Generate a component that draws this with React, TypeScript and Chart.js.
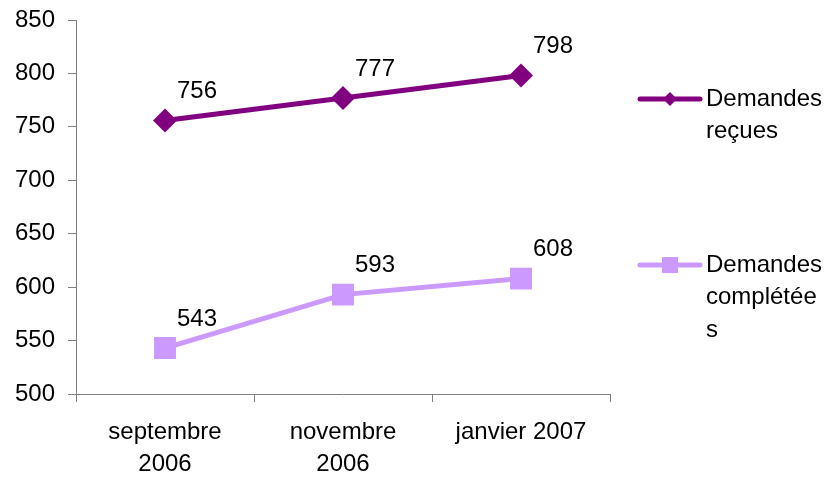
import React, { useEffect, useRef } from "react";
import { Chart, registerables } from "chart.js";

Chart.register(...registerables);

const categories: (string | string[])[] = [["septembre", "2006"], ["novembre", "2006"], "janvier 2007"];
const seriesNames = ["Demandes reçues", "Demandes complétées"];
const legendLines = [["Demandes", "reçues"], ["Demandes", "complétée", "s"]];
const demandesRecues = [756, 777, 798];
const demandesCompletees = [543, 593, 608];
const yMin = 500;
const yMax = 850;
const yStep = 50;

const DARK = "#800080";
const LIGHT = "#CC99FF";
const FONT = "'Liberation Sans', Arial, sans-serif";

const labelPlugin = {
  id: "dataLabels",
  afterDatasetsDraw(chart: any) {
    const ctx = chart.ctx;
    ctx.save();
    ctx.font = `24px ${FONT}`;
    ctx.fillStyle = "#000";
    ctx.textAlign = "center";
    ctx.textBaseline = "middle";
    chart.data.datasets.forEach((ds: any, i: number) => {
      const meta = chart.getDatasetMeta(i);
      meta.data.forEach((pt: any, j: number) => {
        ctx.fillText(String(ds.data[j]), pt.x + 32, pt.y - 29);
      });
    });
    ctx.restore();
  },
};

const legendPlugin = {
  id: "customLegend",
  afterDraw(chart: any) {
    const ctx = chart.ctx;
    ctx.save();
    const lx0 = 640, lx1 = 700, tx = 706;
    const ys = [99, 265];
    chart.data.datasets.forEach((ds: any, i: number) => {
      const y = ys[i];
      ctx.strokeStyle = ds.borderColor;
      ctx.lineWidth = 5;
      ctx.lineCap = "round";
      ctx.beginPath();
      ctx.moveTo(lx0, y);
      ctx.lineTo(lx1, y);
      ctx.stroke();
      ctx.fillStyle = ds.backgroundColor;
      const cx = (lx0 + lx1) / 2;
      if (ds.pointStyle === "rectRot") {
        ctx.beginPath();
        ctx.moveTo(cx, y - 7);
        ctx.lineTo(cx + 7, y);
        ctx.lineTo(cx, y + 7);
        ctx.lineTo(cx - 7, y);
        ctx.closePath();
        ctx.fill();
      } else {
        ctx.fillRect(cx - 8, y - 8, 16, 16);
      }
      ctx.fillStyle = "#000";
      ctx.font = `24px ${FONT}`;
      ctx.textAlign = "left";
      ctx.textBaseline = "middle";
      legendLines[i].forEach((line, k) => {
        ctx.fillText(line, tx, y + k * 32.5);
      });
    });
    ctx.restore();
  },
};

export default function App() {
  const ref = useRef<HTMLCanvasElement>(null);
  useEffect(() => {
    document.body.style.margin = "0";
    const chart = new Chart(ref.current!, {
      type: "line",
      data: {
        labels: categories,
        datasets: [
          {
            label: seriesNames[0],
            data: demandesRecues,
            borderColor: DARK,
            backgroundColor: DARK,
            borderWidth: 5,
            pointStyle: "rectRot",
            pointRadius: 12,
            pointBorderWidth: 0,
            tension: 0,
          },
          {
            label: seriesNames[1],
            data: demandesCompletees,
            borderColor: LIGHT,
            backgroundColor: LIGHT,
            borderWidth: 5,
            pointStyle: "rect",
            pointRadius: 15.5,
            pointBorderWidth: 0,
            tension: 0,
          },
        ],
      },
      options: {
        animation: false,
        responsive: false,
        maintainAspectRatio: false,
        layout: { padding: { top: 20, right: 220, left: 0, bottom: 0 } },
        plugins: { legend: { display: false }, tooltip: { enabled: false } },
        scales: {
          x: {
            offset: true,
            grid: {
              offset: true,
              drawOnChartArea: false,
              drawTicks: true,
              tickLength: 8,
              color: "#808080",
            },
            border: { display: true, color: "#808080", width: 1 },
            ticks: {
              color: "#000",
              font: { family: FONT, size: 24, lineHeight: 1.35 },
              padding: 14,
              maxRotation: 0,
              autoSkip: false,
            },
            afterFit: (s: any) => {
              s.height = 84;
              s.paddingLeft = 0;
              s.paddingRight = 0;
            },
          },
          y: {
            min: yMin,
            max: yMax,
            grid: {
              drawOnChartArea: false,
              drawTicks: true,
              tickLength: 8,
              color: "#808080",
            },
            border: { display: true, color: "#808080", width: 1 },
            ticks: {
              stepSize: yStep,
              color: "#000",
              font: { family: FONT, size: 24 },
              padding: 13,
            },
            afterFit: (s: any) => {
              s.width = 76;
              s.paddingTop = 0;
              s.paddingBottom = 0;
            },
          },
        },
      },
      plugins: [labelPlugin, legendPlugin],
    });
    return () => chart.destroy();
  }, []);
  return <canvas ref={ref} width={830} height={478} style={{ display: "block" }} />;
}
